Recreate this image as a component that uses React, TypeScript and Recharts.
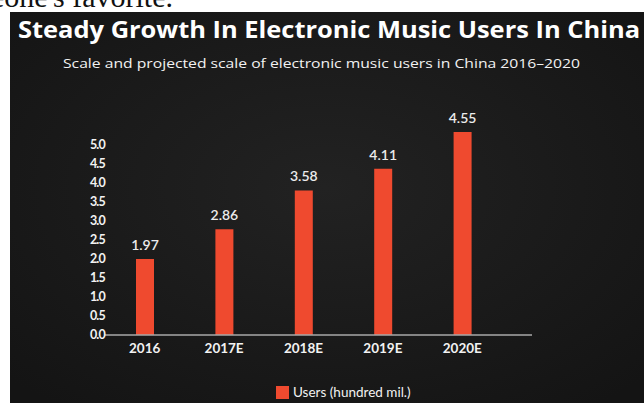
import { BarChart, Bar, XAxis, YAxis, Legend, LabelList } from "recharts";

const years = ["2016", "2017E", "2018E", "2019E", "2020E"];
// values printed above the bars
const users = [1.97, 2.86, 3.58, 4.11, 4.55];
// bar heights as they are drawn against the slide's own axis
const drawnHeights = [2.0, 2.78, 3.8, 4.37, 5.34];
const yTicks = [0, 0.5, 1, 1.5, 2, 2.5, 3, 3.5, 4, 4.5, 5];

const data = years.map((year, i) => ({
  year,
  height: drawnHeights[i],
  users: users[i],
}));

const RED = "#ef4a2f";

export default function App() {
  return (
    <div
      style={{
        position: "absolute",
        left: 0,
        top: 0,
        width: 644,
        height: 403,
        background: "#fff",
        overflow: "hidden",
        fontFamily: "Lato, 'Open Sans', sans-serif",
      }}
    >
      <svg width={644} height={403} style={{ position: "absolute", left: 0, top: 0 }}>
        <text x={-59} y={7} fontFamily="'Liberation Serif', serif" fontSize={30} fill="#111">
          someone's favorite.
        </text>
        <defs>
          <radialGradient id="panel" cx="50%" cy="45%" r="70%">
            <stop offset="0%" stopColor="#222" />
            <stop offset="100%" stopColor="#141414" />
          </radialGradient>
        </defs>
        <rect x={10} y={12} width={634} height={391} fill="url(#panel)" />
        <text
          x={18}
          y={38}
          fontFamily="'Open Sans', sans-serif"
          fontWeight={700}
          fontSize={24}
          fill="#fff"
          textLength={622}
          lengthAdjust="spacingAndGlyphs"
        >
          Steady Growth In Electronic Music Users In China
        </text>
        <text
          x={63}
          y={68}
          fontFamily="'Open Sans', sans-serif"
          fontSize={13.5}
          fill="#f2f2f2"
          textLength={517}
          lengthAdjust="spacingAndGlyphs"
        >
          Scale and projected scale of electronic music users in China 2016–2020
        </text>
      </svg>
      <div style={{ position: "absolute", left: 0, top: 0 }}>
        <BarChart
          width={644}
          height={403}
          data={data}
          margin={{ top: 122, right: 112, left: 65, bottom: 19 }}
        >
          <XAxis
            dataKey="year"
            tickLine={false}
            axisLine={{ stroke: "#a8a8a8", strokeWidth: 1.5 }}
            padding={{ left: 0, right: 30 }}
            tick={{ fill: "#f2f2f2", fontSize: 13.5, fontWeight: 700 }}
            height={30}
          />
          <YAxis
            domain={[0, 5.6]}
            ticks={yTicks}
            width={40}
            axisLine={false}
            tickLine={false}
            tickSize={0}
            tickMargin={0}
            interval={0}
            tickFormatter={(v: number) => v.toFixed(1)}
            tick={{ fill: "#f2f2f2", fontSize: 12.5, fontWeight: 700, letterSpacing: -0.8 }}
          />
          <Legend
            iconType="square"
            iconSize={13}
            align="left"
            verticalAlign="bottom"
            wrapperStyle={{ left: 276, width: 180, bottom: 3 }}
            formatter={() => (
              <span style={{ color: "#f2f2f2", fontSize: 13.5 }}>Users (hundred mil.)</span>
            )}
          />
          <Bar
            dataKey="height"
            name="Users (hundred mil.)"
            fill={RED}
            barSize={18}
            isAnimationActive={false}
          >
            <LabelList
              dataKey="users"
              position="top"
              offset={9}
              fill="#ececec"
              fontSize={14}
              fontWeight={600}
            />
          </Bar>
        </BarChart>
      </div>
    </div>
  );
}
